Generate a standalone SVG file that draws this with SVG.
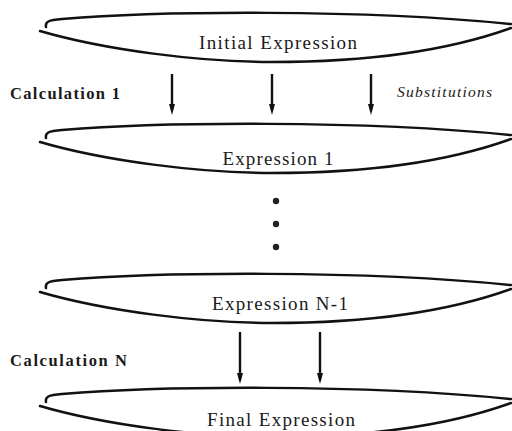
<svg xmlns="http://www.w3.org/2000/svg" width="512" height="431" viewBox="0 0 512 431">
<defs>
<style>
.sh{fill:none;stroke:#111;stroke-width:2.5;stroke-linecap:round}
.t{font-family:"Liberation Serif",serif;font-size:19px;fill:#1a1a1a;text-anchor:middle}
.c{font-family:"Liberation Serif",serif;font-size:16.5px;font-weight:bold;fill:#1a1a1a}
.s{font-family:"Liberation Serif",serif;font-size:15.5px;font-style:italic;fill:#1a1a1a}
</style>
<g id="shape">
<path class="sh" d="M46,27 C45,22 48,20 62,19 C160,11 360,9 511,24"/>
<path class="sh" d="M40,31 C105,50 200,62 272,62 C370,62 450,50 511,28"/>
</g>
</defs>
<g id="node1"><use href="#shape"/><text class="t" x="278" y="49" textLength="158" lengthAdjust="spacing">Initial Expression</text></g>
<g id="node2"><use href="#shape" transform="translate(0,111)"/><text class="t" x="278" y="165" textLength="111" lengthAdjust="spacing">Expression 1</text></g>
<g id="node3"><use href="#shape" transform="translate(0,261)"/><text class="t" x="280" y="310" textLength="136" lengthAdjust="spacing">Expression N-1</text></g>
<g id="node4"><use href="#shape" transform="translate(0,375)"/><text class="t" x="281" y="426" textLength="148" lengthAdjust="spacing">Final Expression</text></g>
<g id="labels">
<text class="c" x="10" y="99" textLength="110" lengthAdjust="spacing">Calculation 1</text>
<text class="s" x="397" y="97" textLength="95" lengthAdjust="spacing">Substitutions</text>
<text class="c" x="10" y="366" textLength="117" lengthAdjust="spacing">Calculation N</text>
<circle cx="276" cy="201" r="3.2" fill="#222"/>
<circle cx="276" cy="224" r="3.2" fill="#222"/>
<circle cx="276" cy="247" r="3.2" fill="#222"/>
</g>
<g id="connectors">
<path d="M172,74 V110 M272,74 V110 M371,74 V110 M240,332 V380 M320,332 V380" stroke="#111" stroke-width="2.4"/>
<path d="M169,104 L172,115 L175,104 Z M269,104 L272,115 L275,104 Z M368,104 L371,115 L374,104 Z M237,373 L240,384 L243,373 Z M317,373 L320,384 L323,373 Z" fill="#111"/>
</g>
</svg>
